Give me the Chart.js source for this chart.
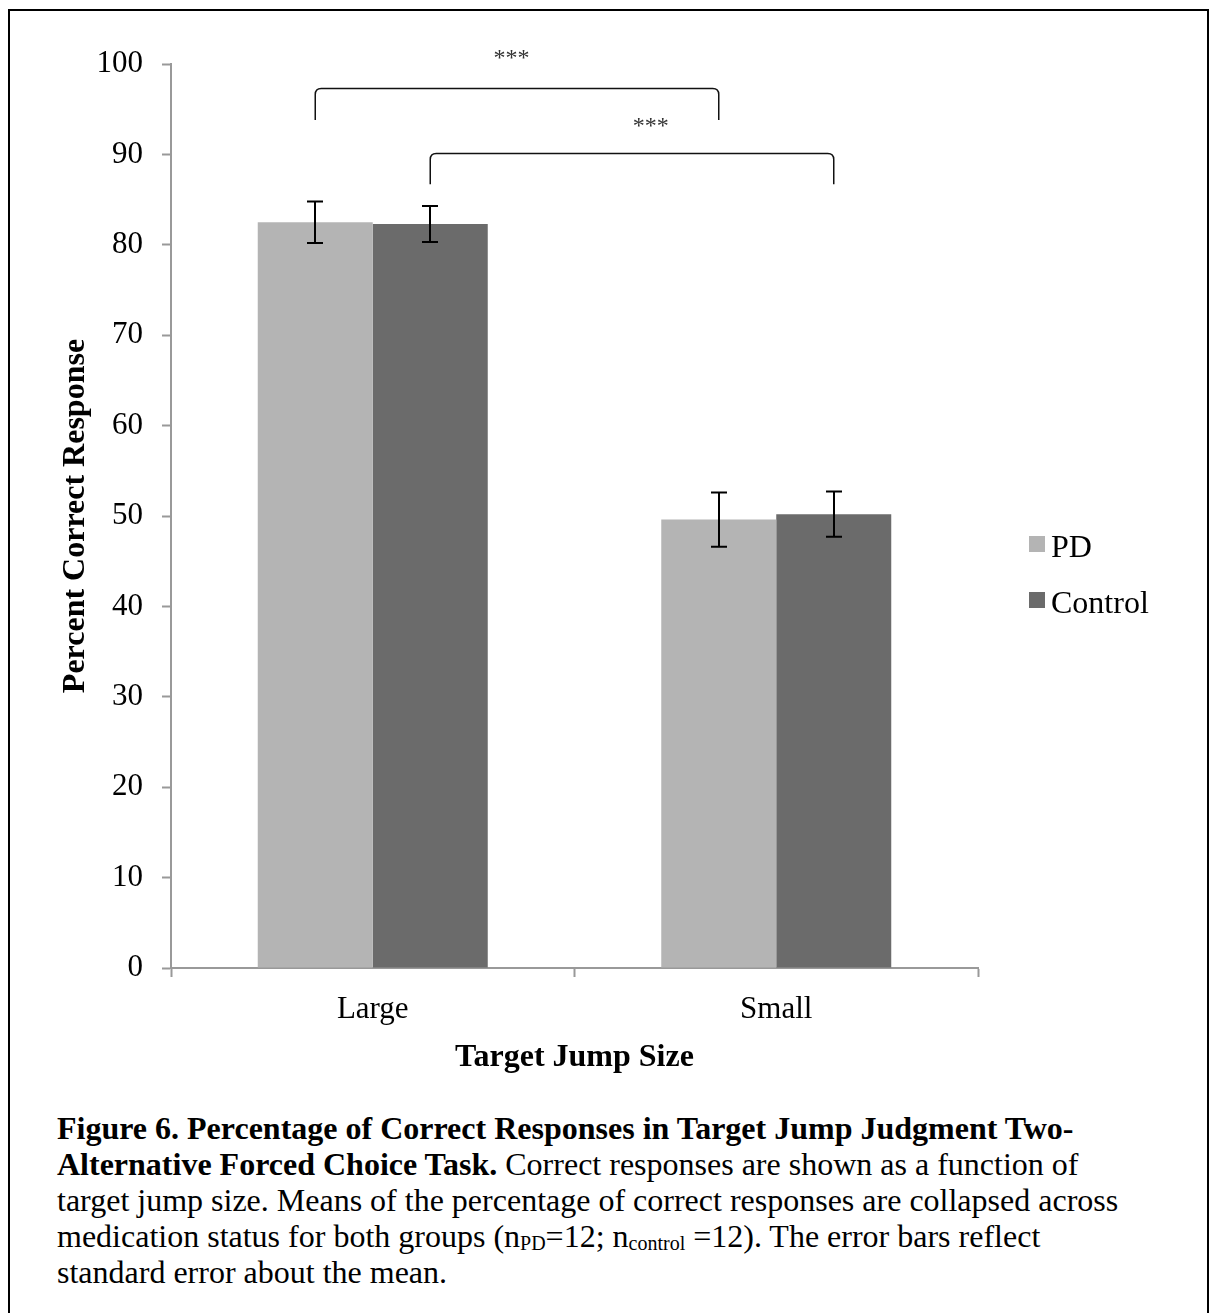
<!DOCTYPE html>
<html>
<head>
<meta charset="utf-8">
<script src="https://cdn.jsdelivr.net/npm/chart.js@4.4.1/dist/chart.umd.min.js"></script>
<style>
  html, body { margin: 0; padding: 0; background: #fff; overflow: hidden; }
  body { width: 1211px; height: 1313px; position: relative; }
  .frame {
    position: absolute; left: 8px; top: 9px;
    width: 1197px; height: 1330px;
    border: 2px solid #000;
  }
  #chart { position: absolute; left: 0; top: 0; }
  .caption {
    position: absolute; left: 57px; top: 1110px;
    font-family: "Liberation Serif", "Times New Roman", serif;
    font-size: 32px; line-height: 36px; color: #000;
    white-space: nowrap;
  }
  .caption sub { font-size: 20px; vertical-align: -3px; line-height: 0; }
</style>
</head>
<body>
<div class="frame"></div>
<canvas id="chart" width="1211" height="1100"></canvas>
<div class="caption">
  <b>Figure 6. Percentage of Correct Responses in Target Jump Judgment Two-</b><br>
  <b>Alternative Forced Choice Task.</b> Correct responses are shown as a function of<br>
  target jump size. Means of the percentage of correct responses are collapsed across<br>
  medication status for both groups (n<sub>PD</sub>=12; n<sub>control</sub> =12). The error bars reflect<br>
  standard error about the mean.
</div>
<script>
const categories = ["Large", "Small"];
const pdMeans = [82.5, 49.6];
const pdErrors = [2.3, 3.0];
const controlMeans = [82.3, 50.2];
const controlErrors = [2.0, 2.5];

// significance brackets: [datasetIndex, categoryIndex] at each end
const significance = [
  { from: [0, 0], to: [0, 1], top: 97.3, legEnd: 93.8, label: "***", labelAt: 0.344, labelY: 101.1 },
  { from: [1, 0], to: [1, 1], top: 90.1, legEnd: 86.7, label: "***", labelAt: 0.689, labelY: 93.5 },
];

const SERIF = '"Liberation Serif", "Times New Roman", serif';
const AXIS_COLOR = "#999999";

const errorBarPlugin = {
  id: "errorBars",
  afterDatasetsDraw(chart) {
    const { ctx, scales: { y } } = chart;
    ctx.save();
    ctx.strokeStyle = "#000";
    ctx.lineWidth = 2;
    chart.data.datasets.forEach((ds, di) => {
      chart.getDatasetMeta(di).data.forEach((bar, i) => {
        const err = ds.errors[i];
        const top = y.getPixelForValue(ds.data[i] + err);
        const bottom = y.getPixelForValue(ds.data[i] - err);
        const x = Math.round(bar.x);
        ctx.beginPath();
        ctx.moveTo(x, top);
        ctx.lineTo(x, bottom);
        ctx.moveTo(x - 8, top);
        ctx.lineTo(x + 8, top);
        ctx.moveTo(x - 8, bottom);
        ctx.lineTo(x + 8, bottom);
        ctx.stroke();
      });
    });
    ctx.restore();
  },
};

const bracketPlugin = {
  id: "brackets",
  afterDatasetsDraw(chart) {
    const { ctx, scales: { x, y } } = chart;
    ctx.save();
    significance.forEach((s) => {
      const x1 = chart.getDatasetMeta(s.from[0]).data[s.from[1]].x;
      const x2 = chart.getDatasetMeta(s.to[0]).data[s.to[1]].x;
      const yTop = y.getPixelForValue(s.top);
      const yLeg = y.getPixelForValue(s.legEnd);
      const r = 6;
      ctx.strokeStyle = "#111";
      ctx.lineWidth = 1.5;
      ctx.beginPath();
      ctx.moveTo(x1, yLeg);
      ctx.lineTo(x1, yTop + r);
      ctx.quadraticCurveTo(x1, yTop, x1 + r, yTop);
      ctx.lineTo(x2 - r, yTop);
      ctx.quadraticCurveTo(x2, yTop, x2, yTop + r);
      ctx.lineTo(x2, yLeg);
      ctx.stroke();

      ctx.font = `24px ${SERIF}`;
      ctx.fillStyle = "#333";
      ctx.textAlign = "center";
      ctx.textBaseline = "alphabetic";
      const m = ctx.measureText(s.label);
      const mid = (m.actualBoundingBoxAscent - m.actualBoundingBoxDescent) / 2;
      ctx.fillText(s.label, x.getPixelForValue(s.labelAt), y.getPixelForValue(s.labelY) + mid);
    });
    ctx.restore();
  },
};

const legendPlugin = {
  id: "sideLegend",
  afterDraw(chart) {
    const { ctx } = chart;
    ctx.save();
    ctx.font = `32px ${SERIF}`;
    ctx.textAlign = "left";
    ctx.textBaseline = "alphabetic";
    chart.data.datasets.forEach((ds, i) => {
      const top = 536 + i * 56;
      ctx.fillStyle = ds.backgroundColor;
      ctx.fillRect(1029, top, 16, 16);
      ctx.fillStyle = "#000";
      ctx.fillText(ds.label, 1051, top + 21);
    });
    ctx.restore();
  },
};

new Chart(document.getElementById("chart"), {
  type: "bar",
  data: {
    labels: categories,
    datasets: [
      { label: "PD", data: pdMeans, errors: pdErrors, backgroundColor: "#b4b4b4" },
      { label: "Control", data: controlMeans, errors: controlErrors, backgroundColor: "#6b6b6b" },
    ],
  },
  plugins: [errorBarPlugin, bracketPlugin, legendPlugin],
  options: {
    responsive: false,
    animation: false,
    devicePixelRatio: 1,
    barPercentage: 1,
    categoryPercentage: 0.57,
    layout: { padding: { left: 0, top: 64, right: 233, bottom: 22 } },
    plugins: {
      legend: { display: false },
      tooltip: { enabled: false },
    },
    scales: {
      y: {
        min: 0,
        max: 100,
        afterFit: (scale) => { scale.width = 171; },
        ticks: {
          stepSize: 10,
          color: "#000",
          padding: 19,
          font: { family: SERIF, size: 31 },
        },
        grid: {
          drawOnChartArea: false,
          drawTicks: true,
          tickLength: 9,
          tickColor: AXIS_COLOR,
          tickWidth: 2,
        },
        border: { display: true, color: AXIS_COLOR, width: 2 },
        title: {
          display: true,
          text: "Percent Correct Response",
          color: "#000",
          padding: { top: 57, bottom: 0 },
          font: { family: SERIF, size: 32, weight: "bold" },
        },
      },
      x: {
        afterFit: (scale) => { scale.height = 110; },
        ticks: {
          color: "#000",
          padding: 14,
          font: { family: SERIF, size: 31 },
        },
        grid: {
          drawOnChartArea: false,
          drawTicks: true,
          tickLength: 9,
          tickColor: AXIS_COLOR,
          tickWidth: 2,
        },
        border: { display: true, color: AXIS_COLOR, width: 2 },
        title: {
          display: true,
          text: "Target Jump Size",
          color: "#000",
          padding: { top: 0, bottom: 1 },
          font: { family: SERIF, size: 32, weight: "bold" },
        },
      },
    },
  },
});
</script>
</body>
</html>
